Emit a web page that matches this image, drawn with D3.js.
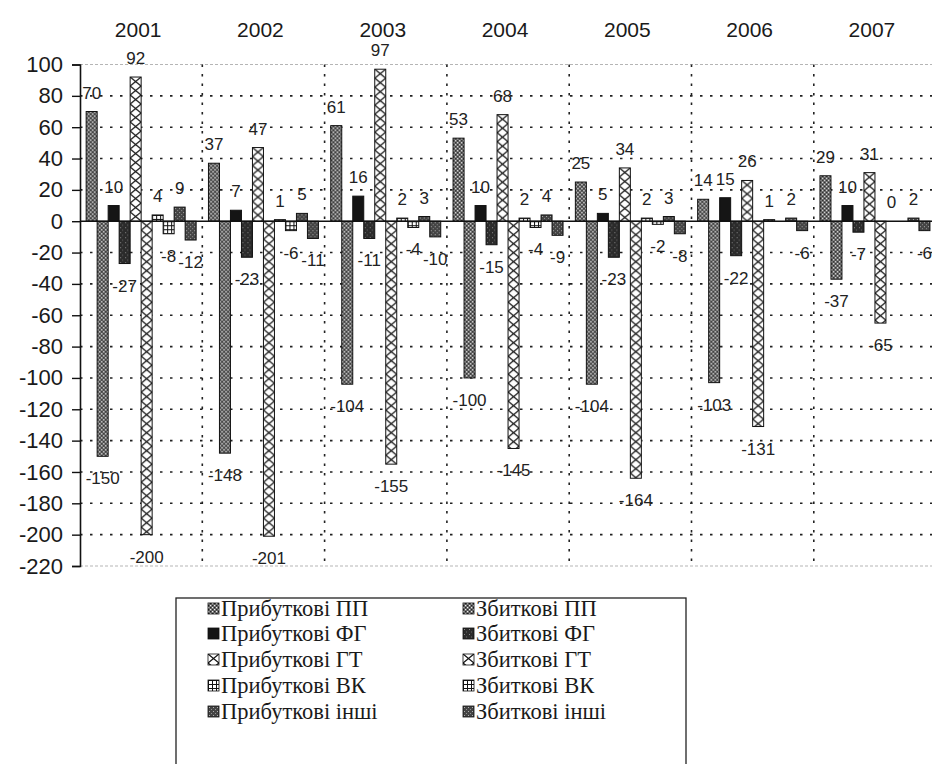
<!DOCTYPE html>
<html>
<head>
<meta charset="utf-8">
<script src="https://cdn.jsdelivr.net/npm/d3@7"></script>
<style>
  html, body { margin: 0; padding: 0; background: #fff; }
  svg { display: block; }
</style>
</head>
<body>
<svg id="chart" width="932" height="764"></svg>
<script>
// Years along the top and the ten series drawn in every year group
const years = ["2001", "2002", "2003", "2004", "2005", "2006", "2007"];
const seriesNames = [
  "Прибуткові ПП", "Збиткові ПП",
  "Прибуткові ФГ", "Збиткові ФГ",
  "Прибуткові ГТ", "Збиткові ГТ",
  "Прибуткові ВК", "Збиткові ВК",
  "Прибуткові інші", "Збиткові інші"
];
const profitPP    = [70, 37, 61, 53, 25, 14, 29];
const lossPP      = [-150, -148, -104, -100, -104, -103, -37];
const profitFG    = [10, 7, 16, 10, 5, 15, 10];
const lossFG      = [-27, -23, -11, -15, -23, -22, -7];
const profitGT    = [92, 47, 97, 68, 34, 26, 31];
const lossGT      = [-200, -201, -155, -145, -164, -131, -65];
const profitVK    = [4, 1, 2, 2, 2, 1, 0];
const lossVK      = [-8, -6, -4, -4, -2, 0, 0];
const profitOther = [9, 5, 3, 4, 3, 2, 2];
const lossOther   = [-12, -11, -10, -9, -8, -6, -6];
const yTicks = [100, 80, 60, 40, 20, 0, -20, -40, -60, -80, -100, -120, -140, -160, -180, -200, -220];

const seriesValues = [profitPP, lossPP, profitFG, lossFG, profitGT, lossGT, profitVK, lossVK, profitOther, lossOther];
// fill style key for each series
const seriesStyle = ["pp", "pp", "fgP", "fgL", "gt", "gt", "vk", "vk", "oth", "oth"];

const svg = d3.select("#chart");
const defs = svg.append("defs");

const plotLeft = 80, plotTop = 64.5, plotBottom = 566;
const groupW = 122.3;
const plotRight = plotLeft + groupW * years.length;

const y = d3.scaleLinear().domain([100, -220]).range([plotTop, plotBottom]);
const x0 = d3.scaleBand().domain(years).range([plotLeft, plotRight]).padding(0);
const x1 = d3.scaleBand().domain(d3.range(seriesNames.length))
  .range([0, groupW]).paddingInner(0).paddingOuter(0.56);

// Build a pattern anchored at the given origin so every bar starts its texture at its own edge
let patCount = 0;
function makePattern(kind, ox, oy) {
  const id = "pat" + (patCount++);
  let w = 4, h = 4;
  if (kind === "gt") { w = 11; h = 9; }
  if (kind === "fgL") { w = 5; h = 5; }
  const p = defs.append("pattern").attr("id", id)
    .attr("patternUnits", "userSpaceOnUse")
    .attr("x", ox).attr("y", oy).attr("width", w).attr("height", h);
  if (kind === "pp") {
    p.append("rect").attr("width", 4).attr("height", 4).attr("fill", "#666");
    p.append("rect").attr("x", 0).attr("y", 0).attr("width", 1.2).attr("height", 1.2).attr("fill", "#eee");
    p.append("rect").attr("x", 2).attr("y", 2).attr("width", 1.2).attr("height", 1.2).attr("fill", "#eee");
    p.append("rect").attr("x", 2).attr("y", 0).attr("width", 1.2).attr("height", 1.2).attr("fill", "#222");
    p.append("rect").attr("x", 0).attr("y", 2).attr("width", 1.2).attr("height", 1.2).attr("fill", "#222");
  } else if (kind === "fgP") {
    p.append("rect").attr("width", 4).attr("height", 4).attr("fill", "#151515");
  } else if (kind === "fgL") {
    p.append("rect").attr("width", 5).attr("height", 5).attr("fill", "#2b2b2b");
    p.append("rect").attr("x", 1).attr("y", 1).attr("width", 1).attr("height", 1).attr("fill", "#8a8a8a");
    p.append("rect").attr("x", 3).attr("y", 3.5).attr("width", 1).attr("height", 1).attr("fill", "#6a6a6a");
  } else if (kind === "gt") {
    p.append("rect").attr("width", w).attr("height", h).attr("fill", "#fff");
    p.append("path").attr("d", `M0,0L${w},${h}M${w},0L0,${h}`)
      .attr("stroke", "#111").attr("stroke-width", 1.3).attr("fill", "none");
  } else if (kind === "vk") {
    p.append("rect").attr("width", 4).attr("height", 4).attr("fill", "#fff");
    p.append("path").attr("d", "M0,0.5H4M0.5,0V4")
      .attr("stroke", "#111").attr("stroke-width", 1).attr("fill", "none");
  } else if (kind === "oth") {
    p.append("rect").attr("width", 4).attr("height", 4).attr("fill", "#444");
    p.append("rect").attr("x", 1).attr("y", 1).attr("width", 1).attr("height", 1).attr("fill", "#b0b0b0");
    p.append("rect").attr("x", 3).attr("y", 3).attr("width", 1).attr("height", 1).attr("fill", "#909090");
  }
  return "url(#" + id + ")";
}

const fontSans = "'Liberation Sans', Arial, sans-serif";
const fontSerif = "'Liberation Serif', 'Times New Roman', serif";

// Faint frame lines at the top and bottom of the plot
svg.append("line").attr("x1", plotLeft).attr("x2", plotRight).attr("y1", y(100)).attr("y2", y(100))
  .attr("stroke", "#b5b5b5").attr("stroke-width", 1).attr("stroke-dasharray", "3,2");
svg.append("line").attr("x1", plotLeft).attr("x2", plotRight).attr("y1", y(-220)).attr("y2", y(-220))
  .attr("stroke", "#b5b5b5").attr("stroke-width", 1).attr("stroke-dasharray", "3,2");

// Dotted horizontal gridlines
svg.append("g").selectAll("line")
  .data(yTicks.filter(v => v !== 100 && v !== 0 && v !== -220))
  .join("line")
  .attr("x1", plotLeft).attr("x2", plotRight)
  .attr("y1", d => y(d)).attr("y2", d => y(d))
  .attr("stroke", "#222").attr("stroke-width", 1.6).attr("stroke-dasharray", "2.5,7.5");

// Dotted vertical dividers between years
svg.append("g").selectAll("line")
  .data(years.slice(1))
  .join("line")
  .attr("x1", d => x0(d)).attr("x2", d => x0(d))
  .attr("y1", y(100)).attr("y2", y(-220))
  .attr("stroke", "#222").attr("stroke-width", 1.6).attr("stroke-dasharray", "2.5,7");

// Bars
const bars = [];
years.forEach((yr, yi) => {
  seriesNames.forEach((name, si) => {
    bars.push({ year: yr, si, value: seriesValues[si][yi] });
  });
});

const barG = svg.append("g");
bars.forEach(b => {
  const bx = x0(b.year) + x1(b.si);
  const y0 = y(0), yv = y(b.value);
  const ty = Math.min(y0, yv), hh = Math.abs(yv - y0);
  if (hh <= 0) return;
  barG.append("rect")
    .attr("x", bx).attr("y", ty)
    .attr("width", x1.bandwidth()).attr("height", hh)
    .attr("fill", makePattern(seriesStyle[b.si], bx, ty))
    .attr("stroke", "#111").attr("stroke-width", 1);
});

// Zero line
svg.append("line").attr("x1", plotLeft).attr("x2", plotRight).attr("y1", y(0)).attr("y2", y(0))
  .attr("stroke", "#111").attr("stroke-width", 1.6);

// Value labels above positive and below negative bars
svg.append("g").selectAll("text")
  .data(bars.filter(b => b.si % 2 === 0 || b.value !== 0))
  .join("text")
  .attr("x", b => x0(b.year) + x1(b.si) + x1.bandwidth() / 2)
  .attr("y", b => b.value >= 0 ? y(b.value) - 13 : y(b.value) + 28)
  .attr("text-anchor", "middle")
  .attr("font-family", fontSans).attr("font-size", 17).attr("fill", "#222")
  .text(b => String(b.value));

// Y axis
const yAxis = d3.axisLeft(y).tickValues(yTicks).tickSize(8).tickPadding(9).tickFormat(d => String(d));
const ax = svg.append("g").attr("transform", `translate(${plotLeft},0)`).call(yAxis);
ax.select(".domain").attr("stroke", "#111").attr("stroke-width", 1.6);
ax.selectAll(".tick line").attr("stroke", "#111").attr("stroke-width", 1.4);
ax.selectAll(".tick text").attr("font-family", fontSans).attr("font-size", 22).attr("fill", "#1a1a1a");

// Year labels across the top
svg.append("g").selectAll("text")
  .data(years).join("text")
  .attr("x", d => x0(d) + groupW / 2 - 3)
  .attr("y", 37)
  .attr("text-anchor", "middle")
  .attr("font-family", fontSans).attr("font-size", 21).attr("fill", "#1a1a1a")
  .text(d => d);

// Legend box with two columns
const legX = 176, legY = 598, legW = 510, legH = 175;
svg.append("rect").attr("x", legX).attr("y", legY).attr("width", legW).attr("height", legH)
  .attr("fill", "#fff").attr("stroke", "#222").attr("stroke-width", 1.3);

const colX = [208, 463];
const rowY = [609, 634, 660, 686, 712];
seriesNames.forEach((name, si) => {
  const cx = colX[si % 2], cy = rowY[Math.floor(si / 2)];
  svg.append("rect").attr("x", cx).attr("y", cy - 6).attr("width", 11).attr("height", 11)
    .attr("fill", makePattern(seriesStyle[si], cx, cy - 6))
    .attr("stroke", "#111").attr("stroke-width", 0.8);
  svg.append("text").attr("x", cx + 13).attr("y", cy + 7)
    .attr("font-family", fontSerif).attr("font-size", 22.5).attr("fill", "#1a1a1a")
    .text(name);
});
</script>
</body>
</html>
